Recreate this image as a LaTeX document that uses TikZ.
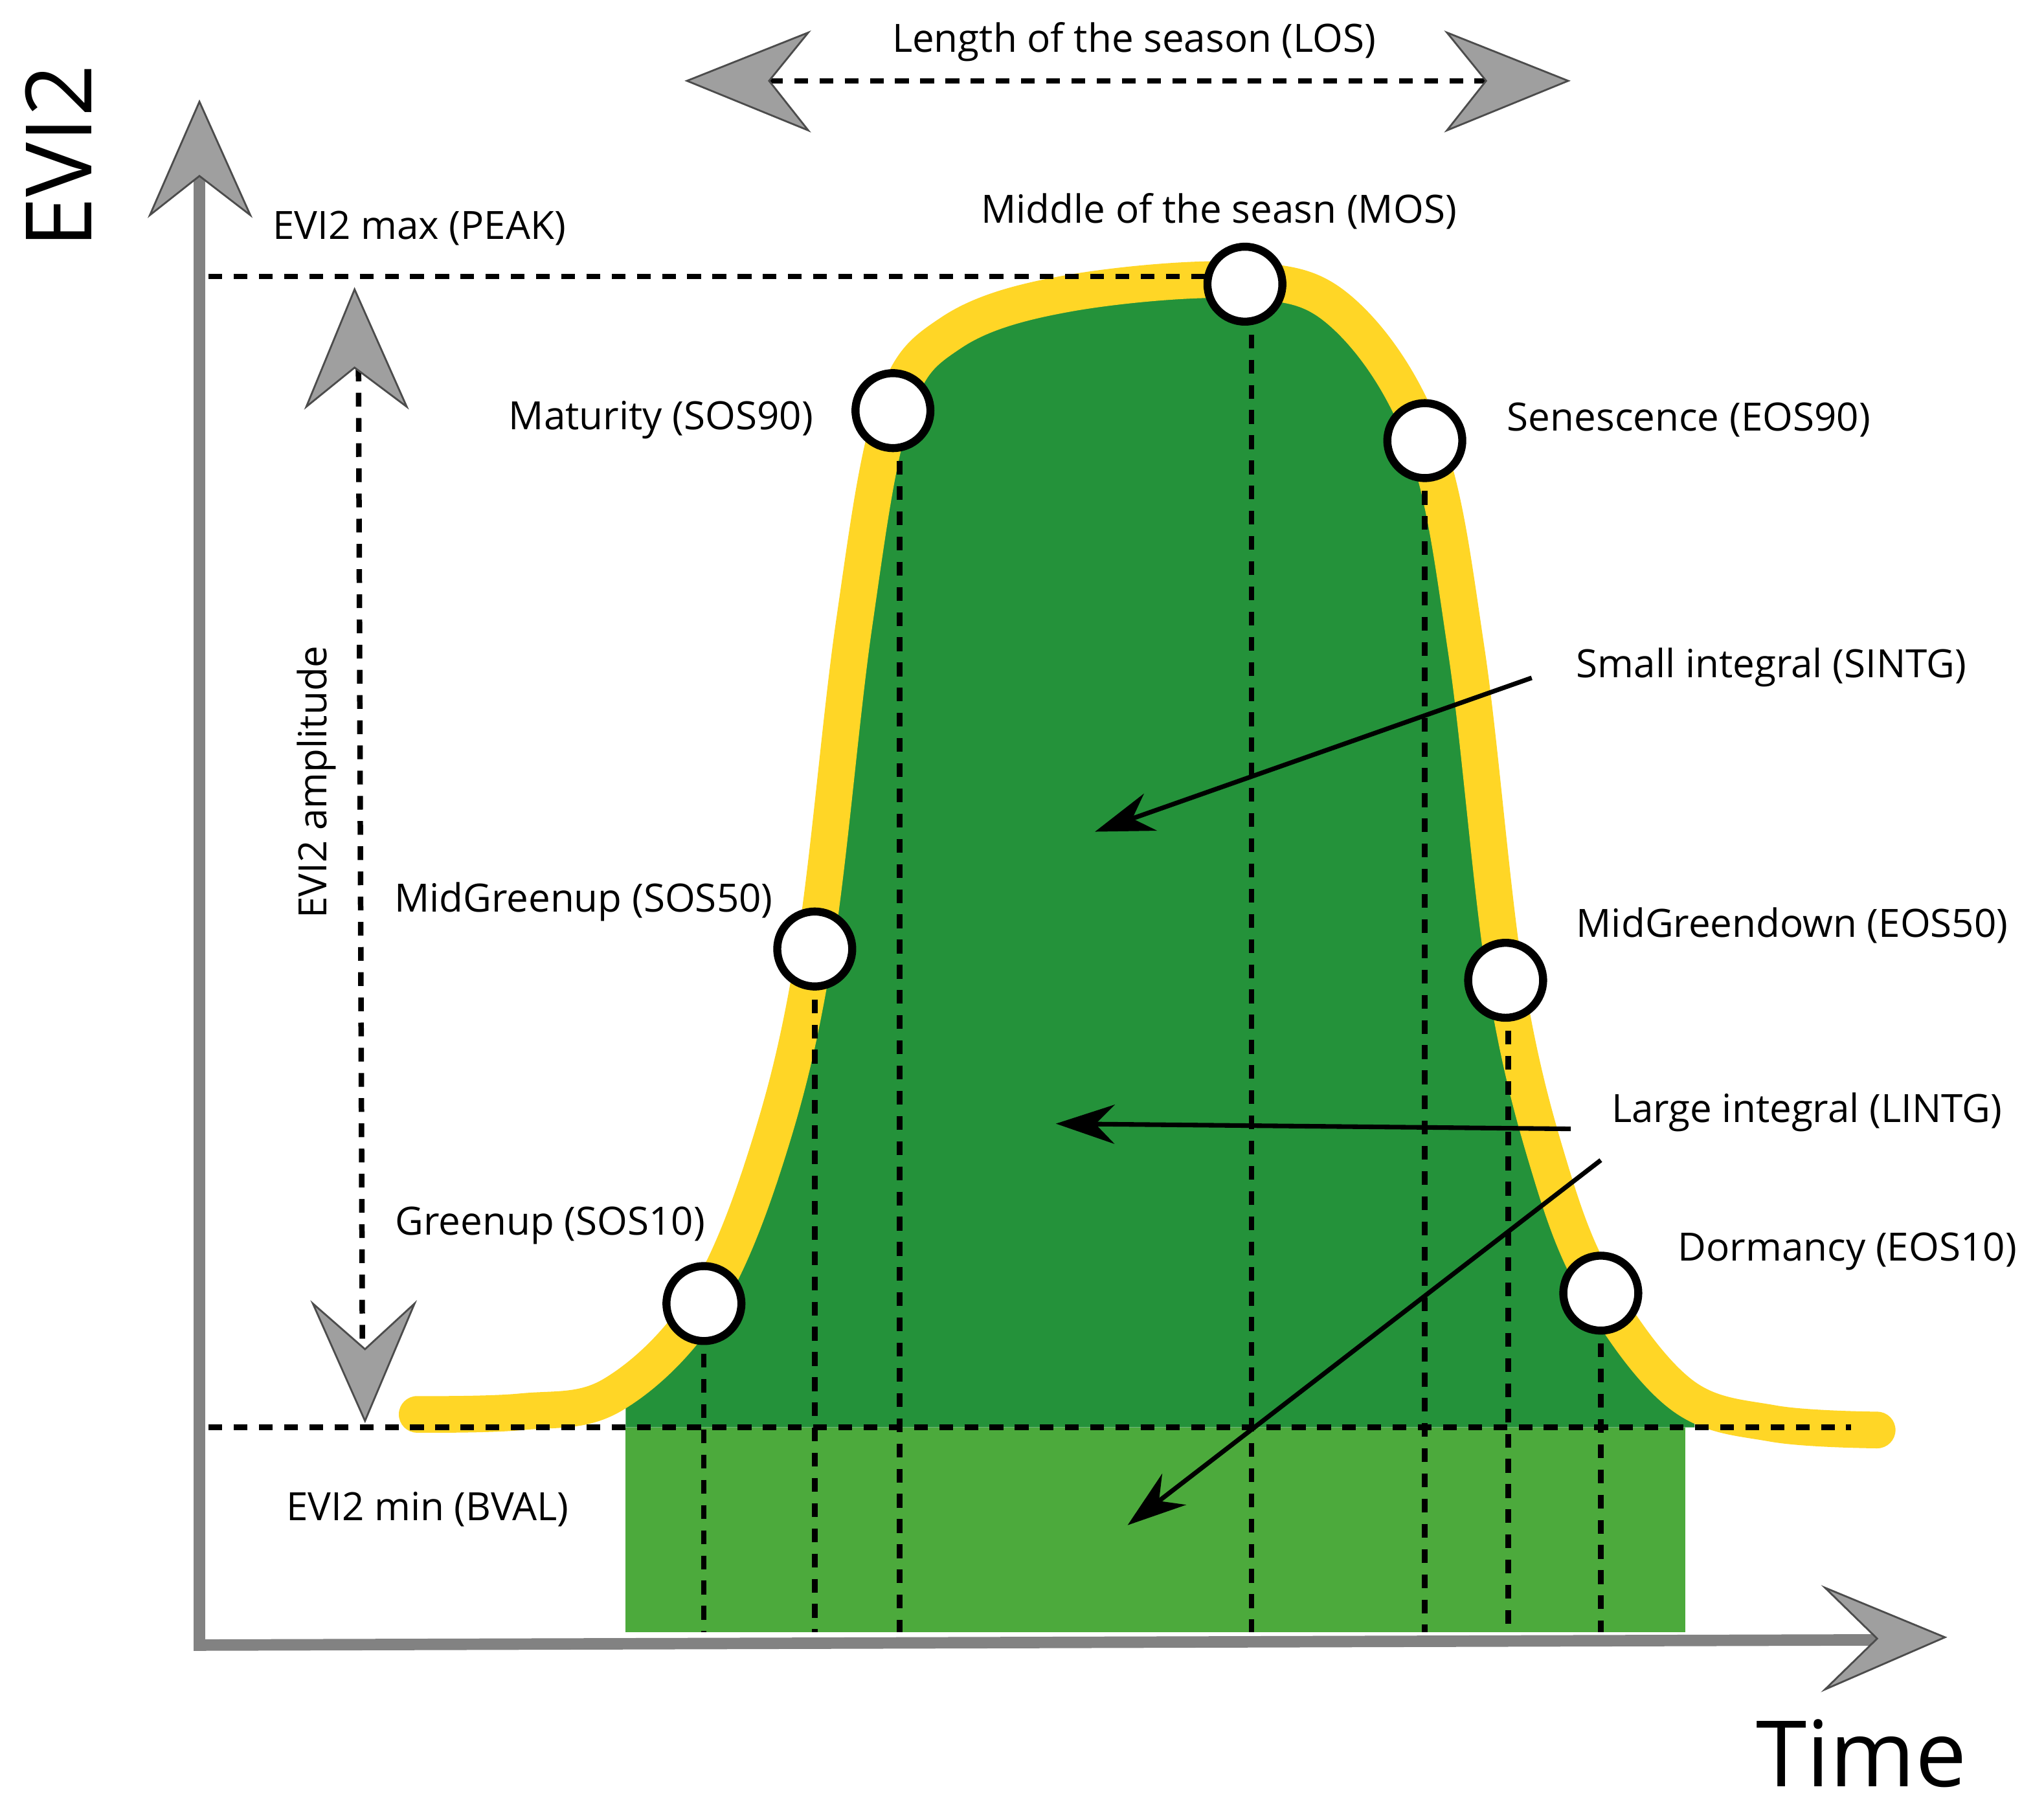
\documentclass[tikz,border=0pt]{standalone}
\usepackage{fontspec}
\setmainfont{Open Sans}
\usetikzlibrary{arrows.meta}
\definecolor{dkg}{RGB}{36,146,58}
\definecolor{ltg}{RGB}{76,170,60}
\definecolor{yel}{RGB}{255,214,38}
\definecolor{axg}{RGB}{130,130,130}
\tikzset{
 lbl/.style={font=\fontsize{17}{20}\selectfont},
 pt/.style={circle,draw=black,line width=3.5pt,fill=white,minimum size=1.15cm,inner sep=0},
 dsh/.style={dash pattern=on 6pt off 5pt,line width=2.4pt},
 blk/.style={line width=2pt,-{Stealth[length=0.9cm,width=0.6cm]}},
 chev/.style={fill=gray!75,draw=black!70,line width=0.8pt},
}
\begin{document}
\begin{tikzpicture}[x=0.02cm,y=-0.02cm]
\useasboundingbox (0,0) rectangle (1568,1386);
% light green block
\fill[ltg] (480,1095) rectangle (1293,1252);
% curve
\def\curve{(320,1085) (400,1083) (470,1070) (540,1000) (590,880) (625,728) (655,480) (685,315) (730,255) (820,225) (955,215) (1030,240) (1093,338) (1125,500) (1155,752) (1190,900) (1228,992) (1290,1070) (1360,1092) (1440,1097)}
\begin{scope}
\clip (480,0) rectangle (1300,1095);
\fill[dkg] plot[smooth,tension=0.6] coordinates {\curve} -- (1440,1095) -- (320,1095) -- cycle;
\end{scope}
\draw[yel,line width=16pt,line cap=round] plot[smooth,tension=0.6] coordinates {\curve};
% axes
\coordinate (o) at (153,1262);
\coordinate (yt) at (153,120);
\coordinate (xt) at (1440,1258);
\draw[axg,line width=5pt] (yt) -- (o) -- (xt);
\draw[chev] (153,78) -- (192,165) -- (153,135) -- (115,165) -- cycle;
\draw[chev] (1492,1256) -- (1400,1296) -- (1440,1257) -- (1400,1218) -- cycle;
\node[font=\fontsize{40}{44}\selectfont,rotate=90] (evi) at (45,120) {EVI2};
\node[font=\fontsize{40}{44}\selectfont] (time) at (1428,1345) {Time};
% dashed lines
\coordinate (pk1) at (160,212); \coordinate (pk2) at (925,212);
\coordinate (bv1) at (160,1095); \coordinate (bv2) at (1420,1095);
\draw[dsh] (pk1) -- (pk2);
\draw[dsh] (bv1) -- (bv2);
% amplitude arrow
\coordinate (a1) at (275,282); \coordinate (a2) at (278,1035);
\draw[dsh] (a1) -- (a2);
\draw[chev] (272,222) -- (312,312) -- (272,282) -- (235,312) -- cycle;
\draw[chev] (280,1090) -- (318,1000) -- (280,1035) -- (240,1000) -- cycle;
\node[lbl,rotate=90] (amp) at (243,600) {EVI2 amplitude};
% LOS arrow
\coordinate (l1) at (590,62); \coordinate (l2) at (1140,62);
\draw[dsh] (l1) -- (l2);
\draw[chev] (527,62) -- (620,25) -- (590,62) -- (620,100) -- cycle;
\draw[chev] (1203,62) -- (1110,25) -- (1140,62) -- (1110,100) -- cycle;
\node[lbl] (los) at (870,32) {Length of the season (LOS)};
% points
\foreach \n/\x/\y/\bx in {p1/540/1000/540,p2/625/728/625,p3/685/315/690,p4/955/218/960,p5/1093/338/1093,p6/1155/752/1157,p7/1228/992/1228}{
  \coordinate (\n b) at (\bx,1252);
  \draw[dsh] (\bx,\y) -- (\n b);
}
\foreach \n/\x/\y in {p1/540/1000,p2/625/728,p3/685/315,p4/955/218,p5/1093/338,p6/1155/752,p7/1228/992}{
  \node[pt] (\n) at (\x,\y) {};
}
% labels
\node[lbl,anchor=west] (peak) at (203,175) {EVI2 max (PEAK)};
\node[lbl] (mos) at (935,162) {Middle of the seasn (MOS)};
\node[lbl,anchor=east] (mat) at (630,322) {Maturity (SOS90)};
\node[lbl,anchor=west] (sen) at (1150,322) {Senescence (EOS90)};
\node[lbl,anchor=west] (sint) at (1203,512) {Small integral (SINTG)};
\node[lbl,anchor=east] (mgu) at (599,692) {MidGreenup (SOS50)};
\node[lbl,anchor=west] (mgd) at (1203,710) {MidGreendown (EOS50)};
\node[lbl,anchor=west] (lint) at (1230,853) {Large integral (LINTG)};
\node[lbl,anchor=east] (gu) at (547,940) {Greenup (SOS10)};
\node[lbl,anchor=west] (dor) at (1281,960) {Dormancy (EOS10)};
\node[lbl] (bval) at (328,1158) {EVI2 min (BVAL)};
% integral arrows
\coordinate (s0) at (1175,520); \coordinate (s1) at (840,638);
\coordinate (m0) at (1205,866); \coordinate (m1) at (810,862);
\coordinate (n0) at (1228,890); \coordinate (n1) at (865,1170);
\draw[blk] (s0) -- (s1);
\draw[blk] (m0) -- (m1);
\draw[blk] (n0) -- (n1);
\end{tikzpicture}
\end{document}
